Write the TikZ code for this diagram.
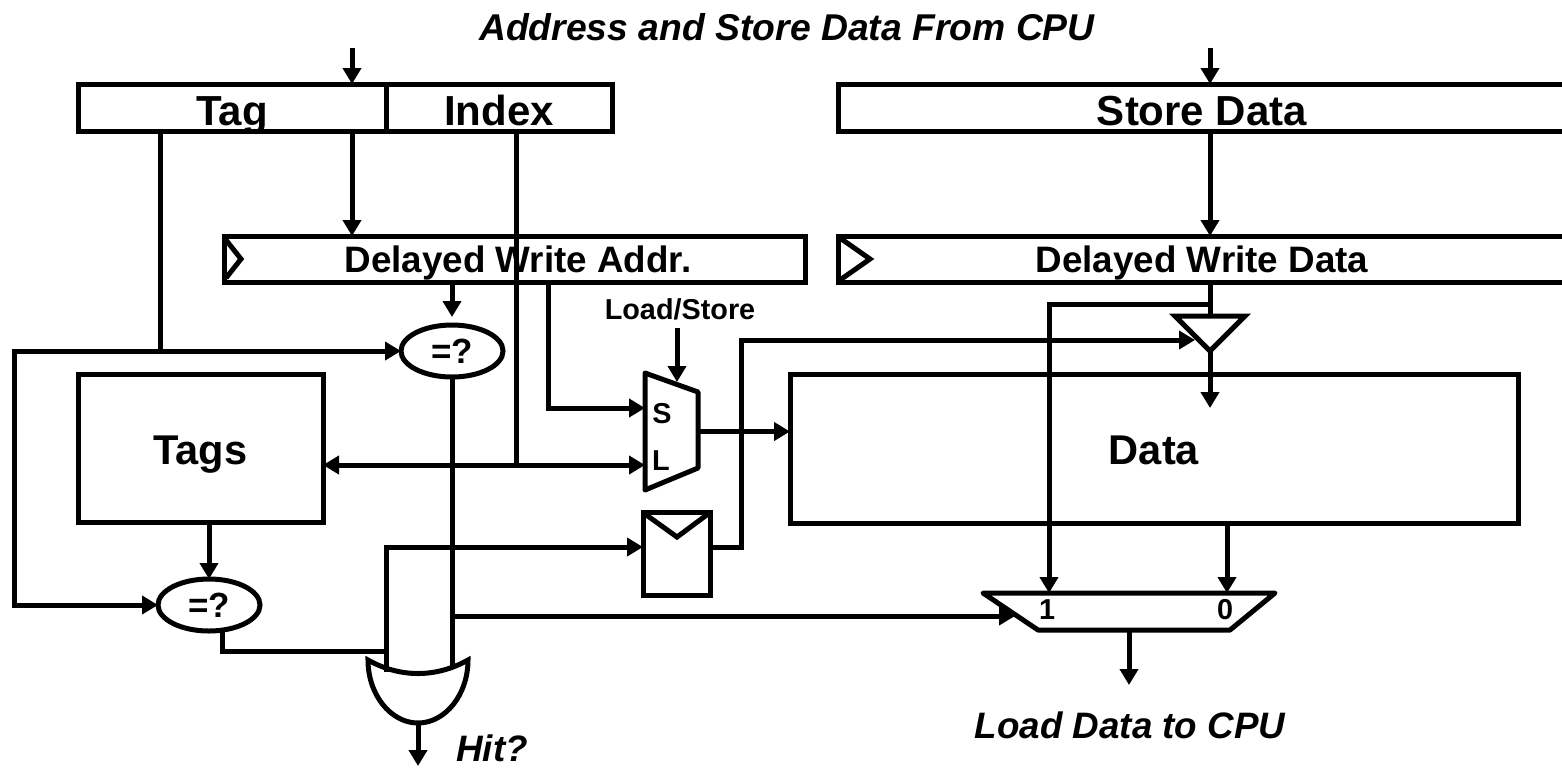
\documentclass[tikz,border=0pt]{standalone}
\usepackage{fontspec}
\setmainfont{Liberation Sans}
\usetikzlibrary{arrows.meta, shapes.geometric}
\tikzset{
    wire/.style={line width=2.5pt},
    sig/.style={wire, -{Triangle[length=8pt,width=9pt]}},
    dsig/.style={wire, {Triangle[length=8pt,width=9pt]}-{Triangle[length=8pt,width=9pt]}},
    hold/.style={inner sep=0pt, outer sep=0pt},
    regbox/.style={wire, draw, rectangle, hold},
    bigtxt/.style={font=\fontsize{20.8pt}{24pt}\bfseries, text depth=0pt},
    fieldtxt/.style={font=\fontsize{21pt}{24pt}\bfseries, text height=17.5pt, text depth=0pt},
    regtxt/.style={font=\fontsize{18.4pt}{22pt}\bfseries, text height=13pt, text depth=0pt, hold},
    smalltxt/.style={font=\fontsize{14.4pt}{17pt}\bfseries, anchor=base, hold},
    notetxt/.style={font=\fontsize{18.4pt}{22pt}\bfseries\itshape, anchor=base, hold},
    eqbox/.style={wire, draw, ellipse, hold, minimum width=51pt, minimum height=26pt,
        font=\fontsize{17.5pt}{20pt}\bfseries, text height=12pt, text depth=0pt}
}
\begin{document}
\begin{tikzpicture}[x=0.5pt,y=-0.5pt]
    \useasboundingbox (0,0) rectangle (1562,767);

    \node[notetxt, font=\fontsize{18.65pt}{22pt}\bfseries\itshape] (title) at (787,40) {Address and Store Data From CPU};
    \node[notetxt] (hit) at (492,761) {Hit?};
    \node[notetxt] (loadcpu) at (1130,738) {Load Data to CPU};

    \node[regbox, fieldtxt, minimum width=154pt, minimum height=23.5pt] (tagf) at (232,107.5) {Tag};
    \node[regbox, fieldtxt, minimum width=113pt, minimum height=23.5pt] (indexf) at (499,107.5) {Index};
    \node[regbox, fieldtxt, minimum width=364pt, minimum height=23.5pt] (storef) at (1202,107.5) {Store Data};

    \node[regbox, minimum width=290.5pt, minimum height=23pt] (dwa) at (514.5,259) {};
    \node[regtxt] (dwatxt) at (518,259) {Delayed Write Addr.};
    \node[regbox, regtxt, draw, wire, minimum width=364pt, minimum height=23pt] (dwd) at (1202,259) {Delayed Write Data};
    \draw[wire] (226,240) -- (241,259) -- (226,278);
    \draw[wire] (840,238) -- (870,259) -- (840,280);

    \node[regbox, bigtxt, text height=16pt, minimum width=122.5pt, minimum height=74pt] (tags) at (200.5,448) {Tags};
    \node[regbox, bigtxt, text height=16pt, minimum width=364pt, minimum height=74.5pt] (data) at (1154,448.5) {Data};
    \node[regbox, minimum width=33.5pt, minimum height=41.5pt] (valid) at (676.5,553.5) {};
    \draw[wire] (645,514) -- (677,537) -- (708,514);

    \node[eqbox] (eqaddr) at (452,351) {=?};
    \node[eqbox] (eqtag) at (209,605) {=?};

    \node[hold, minimum width=26.5pt, minimum height=58.5pt] (smux) at (671.5,431.5) {};
    \draw[wire, line join=round] (645,373) -- (698,392) -- (698,468) -- (645,490) -- cycle;
    \node[smalltxt] (muxs) at (662,423) {S};
    \node[smalltxt] (muxl) at (661,470) {L};
    \node[smalltxt] (lstxt) at (680,319) {Load/Store};

    \node[hold, minimum width=146pt, minimum height=18.5pt] (datamux) at (1129,611.5) {};
    \draw[wire, line join=round] (983,593) -- (1275,593) -- (1230,630) -- (1038,630) -- cycle;
    \node[smalltxt] (muxone) at (1047,619) {1};
    \node[smalltxt] (muxzero) at (1225,619) {0};

    \node[hold, minimum width=35pt, minimum height=17.5pt] (tri) at (1210,333.5) {};
    \draw[wire] (1175,316) -- (1245,316) -- (1210,351) -- cycle;

    \node[hold, minimum width=50pt, minimum height=31.5pt] (orgate) at (418,691.5) {};
    \draw[wire] (368,660) .. controls (400,678) and (436,678) .. (468,660)
        .. controls (468,695) and (445,723) .. (418,723)
        .. controls (391,723) and (368,695) .. (368,660) -- cycle;

    \coordinate (addrin) at (352,48);
    \coordinate (datain) at (1210,48);
    \draw[sig] (addrin) -- (addrin |- tagf.north);
    \draw[sig] (datain) -- (datain |- storef.north);
    \draw[sig] (addrin |- tagf.south) -- (addrin |- dwa.north);
    \draw[sig] (datain |- storef.south) -- (datain |- dwd.north);

    \coordinate (tagdrop) at (160,351);
    \coordinate (leftbus) at (14,351);
    \draw[wire] (tagdrop |- tagf.south) -- (tagdrop);
    \draw[dsig] (eqaddr.west) -- (leftbus) -- (leftbus |- eqtag.west) -- (eqtag.west);
    \draw[sig] (eqtag.north |- tags.south) -- (eqtag.north);
    \draw[sig, shorten >=4pt] (eqaddr.north |- dwa.south) -- (eqaddr.north);

    \coordinate (idxjoin) at (516,465);
    \draw[wire] (idxjoin |- indexf.south) -- (idxjoin);
    \draw[dsig] (tags.east |- idxjoin) -- (smux.west |- idxjoin);

    \coordinate (sbend) at (548,408);
    \coordinate (lsstart) at (677,328);
    \coordinate (lsend) at (677,382);
    \draw[sig] (sbend |- dwa.south) -- (sbend) -- (smux.west |- sbend);
    \draw[sig] (lsstart) -- (lsend);
    \draw[sig] (smux.east) -- (data.west |- smux.east);

    \coordinate (orina) at (452,667);
    \coordinate (orinb) at (386,672);
    \coordinate (orbtop) at (386,547);
    \coordinate (eqout) at (222,651);
    \coordinate (seljoin) at (452,616);
    \coordinate (muxsel) at (1015,616);
    \coordinate (hitend) at (418,766);
    \draw[wire] (eqaddr.south) -- (orina);
    \draw[wire] (eqout |- eqtag.south) -- (eqout) -- (orinb |- eqout);
    \draw[sig] (orinb) -- (orbtop) -- (valid.west |- orbtop);
    \draw[sig] (seljoin) -- (muxsel);
    \draw[sig] (orgate.south) -- (hitend);

    \coordinate (enbend) at (741,547);
    \coordinate (entop) at (741,340);
    \coordinate (enin) at (1195,340);
    \draw[sig] (valid.east |- enbend) -- (enbend) -- (entop) -- (enin);

    \coordinate (bypass) at (1210,304);
    \coordinate (bypassl) at (1049,304);
    \coordinate (datawr) at (1210,408);
    \coordinate (rdzero) at (1227,593);
    \coordinate (loadend) at (1129,685);
    \draw[wire] (datain |- dwd.south) -- (datain |- tri.north);
    \draw[sig] (tri.south) -- (datawr);
    \draw[sig] (bypass) -- (bypassl) -- (bypassl |- datamux.north);
    \draw[sig] (rdzero |- data.south) -- (rdzero);
    \draw[sig] (datamux.south) -- (loadend);
\end{tikzpicture}
\end{document}
